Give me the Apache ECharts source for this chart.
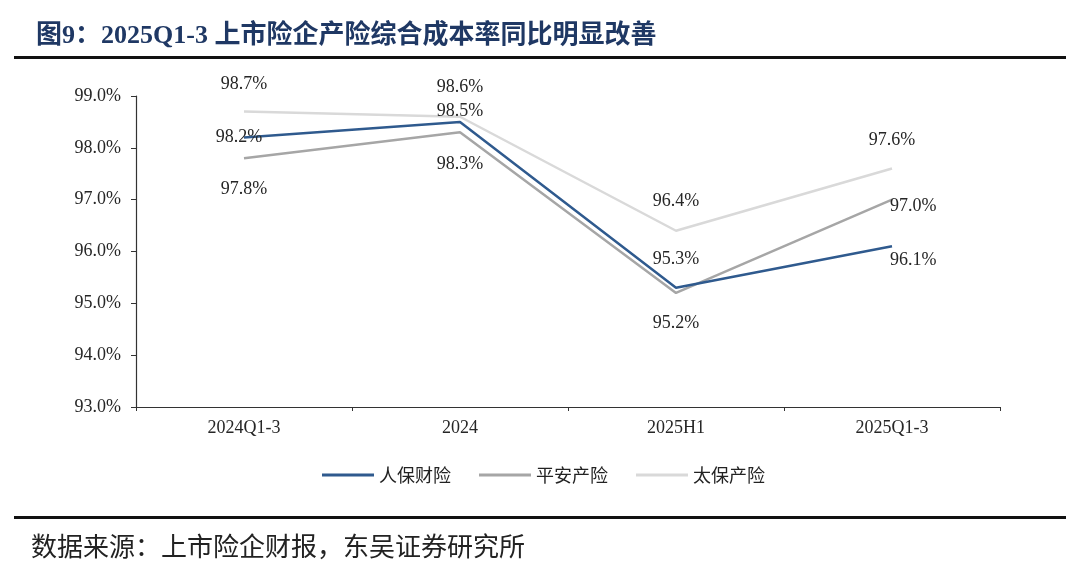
<!DOCTYPE html>
<html>
<head>
<meta charset="utf-8">
<script src="https://cdn.jsdelivr.net/npm/echarts@6/dist/echarts.min.js"></script>
<style>
html,body{margin:0;padding:0;background:#fff;}
#c{width:1080px;height:570px;}
</style>
</head>
<body>
<div id="c"></div>
<script>
const categories = ['2024Q1-3', '2024', '2025H1', '2025Q1-3'];
const seriesNames = ['人保财险', '平安产险', '太保产险'];
const picc = [98.2, 98.5, 95.3, 96.1];
const pingan = [97.8, 98.3, 95.2, 97.0];
const cpic = [98.7, 98.6, 96.4, 97.6];
const yTicks = [93, 94, 95, 96, 97, 98, 99];

const serif = "'Liberation Serif', 'Times New Roman', 'Noto Sans CJK SC', serif";
const labelBase = { show: true, fontFamily: serif, fontSize: 18, color: '#262626',
  formatter: p => p.value.toFixed(1) + '%' };

// per-point label placement (styles only)
const piccLabels = [
  { position: 'inside', offset: [-5, 0] },
  { position: 'top', distance: 2 },
  { position: 'top', distance: 20 },
  { position: 'right', distance: -2, offset: [0, 14] }
];
const pinganLabels = [
  { position: 'bottom', distance: 22 },
  { position: 'bottom', distance: 23 },
  { position: 'bottom', distance: 21 },
  { position: 'right', distance: -2, offset: [0, 7] }
];
const cpicLabels = [
  { position: 'top', distance: 18 },
  { position: 'top', distance: 20 },
  { position: 'top', distance: 20 },
  { position: 'top', distance: 19 }
];

function mk(name, values, color, labels, z) {
  return {
    name: name, type: 'line', data: values.map((v, i) => ({ value: v, label: labels[i] })),
    symbol: 'circle', symbolSize: 0.01, showSymbol: true, z: z,
    lineStyle: { color: color, width: 2.5 }, itemStyle: { color: color },
    label: labelBase, emphasis: { disabled: true }, animation: false
  };
}

const chart = echarts.init(document.getElementById('c'));
chart.setOption({
  animation: false,
  backgroundColor: '#fff',
  title: [
    { text: '图9：2025Q1-3 上市险企产险综合成本率同比明显改善', left: 31, top: 18,
      textStyle: { fontFamily: serif, fontWeight: 'bold', fontSize: 26, color: '#1F3864' } },
    { text: '数据来源：上市险企财报，东吴证券研究所', left: 26, top: 528,
      textStyle: { fontFamily: "'Noto Sans CJK SC', sans-serif", fontWeight: 'normal', fontSize: 26, color: '#222' } }
  ],
  graphic: [
    { type: 'rect', shape: { x: 14, y: 56, width: 1052, height: 3 }, style: { fill: '#111' } },
    { type: 'rect', shape: { x: 14, y: 516, width: 1052, height: 3 }, style: { fill: '#111' } }
  ],
  legend: {
    left: 317, top: 461, itemWidth: 52, itemHeight: 3, itemGap: 28, icon: 'rect',
    data: seriesNames,
    textStyle: { fontFamily: "'Noto Sans CJK SC', sans-serif", fontSize: 18, color: '#222' }
  },
  grid: { left: 136, right: 80, top: 96, bottom: 163 },
  xAxis: {
    type: 'category', data: categories, boundaryGap: true,
    axisLine: { lineStyle: { color: '#333', width: 1.2 } },
    axisTick: { show: true, length: 4, lineStyle: { color: '#333' } },
    axisLabel: { fontFamily: serif, fontSize: 18, color: '#262626', margin: 12 }
  },
  yAxis: {
    type: 'value', min: 93, max: 99, interval: 1,
    axisLine: { show: true, lineStyle: { color: '#333', width: 1.2 } },
    axisTick: { show: true, length: 5, lineStyle: { color: '#333' } },
    splitLine: { show: false },
    axisLabel: { fontFamily: serif, fontSize: 18, color: '#262626', margin: 15,
      formatter: v => v.toFixed(1) + '%' }
  },
  series: [
    mk(seriesNames[0], picc, '#2F5A8E', piccLabels, 5),
    mk(seriesNames[1], pingan, '#A6A6A6', pinganLabels, 4),
    mk(seriesNames[2], cpic, '#D9D9D9', cpicLabels, 3)
  ]
});
</script>
</body>
</html>
